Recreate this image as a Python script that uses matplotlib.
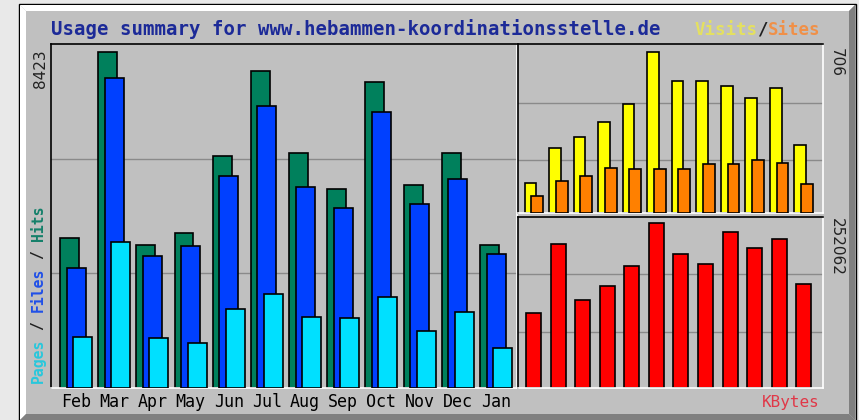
import matplotlib
matplotlib.use("Agg")
import matplotlib.pyplot as plt
from matplotlib.patches import Polygon, Rectangle
from matplotlib.transforms import blended_transform_factory

# ---------------- data ----------------
months = ["Feb", "Mar", "Apr", "May", "Jun", "Jul", "Aug", "Sep", "Oct", "Nov", "Dec", "Jan"]
hits = [3753, 8423, 3585, 3878, 5816, 7947, 5883, 4989, 7663, 5089, 5891, 3585]
files = [3016, 7779, 3309, 3560, 5315, 7077, 5031, 4505, 6911, 4613, 5240, 3351]
pages = [1286, 3668, 1245, 1120, 1989, 2357, 1788, 1746, 2273, 1437, 1905, 1011]
visits = [131, 282, 333, 396, 476, 706, 576, 576, 554, 504, 548, 296]
sites = [72, 138, 160, 197, 190, 190, 190, 212, 212, 232, 217, 125]
kbytes = [114322, 219921, 134677, 156562, 186711, 252062, 204617, 189772,
          239207, 214720, 227575, 159164]
title = "Usage summary for www.hebammen-koordinationsstelle.de"

# ---------------- style ----------------
W, H = 859, 420
GREY = "#c0c0c0"
C_HITS, C_FILES, C_PAGES = "#00805c", "#0040ff", "#00e0ff"
C_VISITS, C_SITES, C_KB = "#ffff00", "#ff8000", "#ff0000"
GRID = "#8a8a8a"
MONO = "DejaVu Sans Mono"

fig = plt.figure(figsize=(W / 100, H / 100), dpi=100)
fig.patch.set_facecolor("#e9e9e9")

# background axes in pixel coordinates
bg = fig.add_axes([0, 0, 1, 1])
bg.set_xlim(0, W)
bg.set_ylim(H, 0)
bg.axis("off")
bg.add_patch(Rectangle((19, 4), 837, 420, facecolor=GREY, edgecolor="black", lw=1.0))
bg.add_patch(Polygon([(20, 5), (855, 5), (849, 11), (26, 11)], closed=True, color="white", lw=0))
bg.add_patch(Polygon([(20, 5), (26, 11), (26, 414), (20, 420)], closed=True, color="white", lw=0))
bg.add_patch(Polygon([(855, 5), (855, 420), (849, 414), (849, 11)], closed=True, color="#808080", lw=0))
bg.add_patch(Polygon([(20, 420), (855, 420), (849, 414), (26, 414)], closed=True, color="#808080", lw=0))


def px_axes(x0, y0, x1, y1):
    ax = fig.add_axes([x0 / W, 1 - y1 / H, (x1 - x0) / W, (y1 - y0) / H])
    ax.set_facecolor(GREY)
    ax.set_xticks([])
    ax.set_yticks([])
    for s in ("top", "left"):
        ax.spines[s].set_color("black")
        ax.spines[s].set_linewidth(1.2)
    for s in ("bottom", "right"):
        ax.spines[s].set_color("white")
        ax.spines[s].set_linewidth(1.2)
    return ax


n = len(months)
idx = list(range(n))

# ---------------- main panel ----------------
ax = px_axes(51, 44, 517, 388)
ytop = 8620
ax.set_ylim(0, ytop)
ax.set_xlim(-0.235, 11.97)
for f in (1 / 3, 2 / 3):
    ax.axhline(ytop * f, color=GRID, lw=1.0, zorder=1)
bw = 0.497
ax.bar([i for i in idx], hits, bw, align="edge", color=C_HITS, edgecolor="black", lw=1.2, zorder=2)
ax.bar([i + 0.172 for i in idx], files, bw, align="edge", color=C_FILES, edgecolor="black", lw=1.2, zorder=3)
ax.bar([i + 0.342 for i in idx], pages, bw, align="edge", color=C_PAGES, edgecolor="black", lw=1.2, zorder=4)
tr = blended_transform_factory(ax.transData, ax.transAxes)
for i, m in enumerate(months):
    ax.text(i + 0.42, -0.04, m, transform=tr, ha="center", va="center",
            fontsize=12, family=MONO, color="black")

# ---------------- visits / sites panel ----------------
ax2 = px_axes(518, 44, 823, 212.5)
vtop = 740
ax2.set_ylim(0, vtop)
ax2.set_xlim(-0.343, 12.1)
for f in (0.31, 0.65):
    ax2.axhline(vtop * f, color=GRID, lw=1.0, zorder=1)
ax2.bar([i - 0.07 for i in idx], visits, 0.478, align="edge", color=C_VISITS, edgecolor="black", lw=1.2, zorder=2)
ax2.bar([i + 0.204 for i in idx], sites, 0.478, align="edge", color=C_SITES, edgecolor="black", lw=1.2, zorder=3)

# ---------------- kbytes panel ----------------
ax3 = px_axes(518, 216.5, 823, 388)
ktop = 262500
ax3.set_ylim(0, ktop)
ax3.set_xlim(-0.343, 12.1)
for f in (0.328, 0.665):
    ax3.axhline(ktop * f, color=GRID, lw=1.0, zorder=1)
ax3.bar(idx, kbytes, 0.612, align="edge", color=C_KB, edgecolor="black", lw=1.2, zorder=2)

# ---------------- texts ----------------
bg.text(51, 29, title, ha="left", va="center", fontsize=13.7, family=MONO,
        fontweight="bold", color="#1c2a98")

bg.text(40, 49, f"{max(hits)}", rotation=90, ha="center", va="top", fontsize=11,
        family="DejaVu Sans", color="#222222")
bg.text(836, 48, f"{max(visits)}", rotation=-90, ha="center", va="top", fontsize=11,
        family="DejaVu Sans", color="#222222")
bg.text(836, 218, f"{max(kbytes)}", rotation=-90, ha="center", va="top", fontsize=11,
        family="DejaVu Sans", color="#222222")

# left legend (rotated, bottom to top)
fs_l = 10.6
adv = 0.602 * fs_l * 100 / 72
y0 = 383
pieces = [("Pages", 0, "#28c8dc"), ("/", 6, "#202020"), ("Files", 8, "#2050e8"),
          ("/", 14, "#202020"), ("Hits", 16, "#14806a")]
for txt, pos, col in pieces:
    bg.text(38, y0 - pos * adv, txt, rotation=90, ha="center", va="bottom",
            fontsize=fs_l, family=MONO, fontweight="bold", color=col)

# right legend top
fs_r = 12.5
adv_r = 0.602 * fs_r * 100 / 72
x_end = 820
rp = [("Visits", 0, "#e4e060"), ("/", 6, "#202020"), ("Sites", 7, "#f09048")]
x_start = x_end - 12 * adv_r
for txt, pos, col in rp:
    bg.text(x_start + pos * adv_r, 30, txt, ha="left", va="center", fontsize=fs_r,
            family=MONO, fontweight="bold", color=col)

bg.text(820, 402, "KBytes", ha="right", va="center", fontsize=11.5, family=MONO,
        color="#e03848")

fig.savefig("out.png", dpi=100, facecolor=fig.get_facecolor())
